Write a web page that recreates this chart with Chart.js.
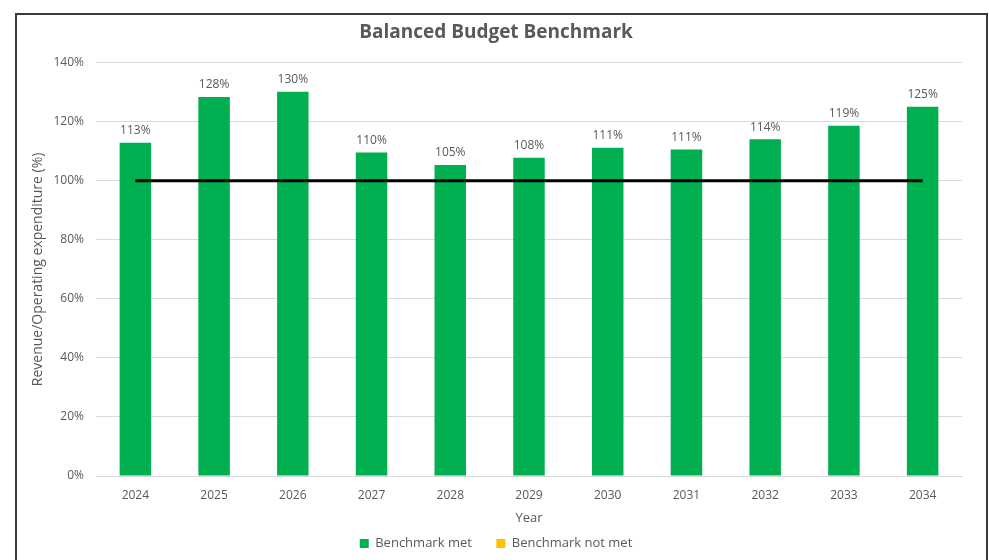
<!DOCTYPE html>
<html>
<head>
<meta charset="utf-8">
<script src="https://cdn.jsdelivr.net/npm/chart.js@4"></script>
<style>
  body { margin: 0; background: #fff; overflow: hidden; }
  #frame {
    position: absolute; left: 15px; top: 13px;
    width: 969px; height: 600px;
    border: 2px solid #3a3a3a; background: #fff;
  }
  #chart { display: block; }
</style>
</head>
<body>
<div id="frame"><canvas id="chart" width="969" height="545"></canvas></div>
<script>
// Data
const years = ['2024', '2025', '2026', '2027', '2028', '2029', '2030', '2031', '2032', '2033', '2034'];
const ratioMet = [112.9, 128.4, 130.2, 109.6, 105.4, 107.8, 111.2, 110.6, 114.1, 118.7, 125.1];
const ratioNotMet = [null, null, null, null, null, null, null, null, null, null, null];
const benchmark = [100, 100, 100, 100, 100, 100, 100, 100, 100, 100, 100];

const FONT = "'Open Sans', 'DejaVu Sans', sans-serif";
const GREY = '#595959';

// Small labels above the green bars (dataset 1 is the "met" bars)
const barLabels = {
    id: 'barLabels',
    afterDatasetsDraw(chart) {
        const ctx = chart.ctx;
        const meta = chart.getDatasetMeta(1);
        ctx.save();
        ctx.font = '12px ' + FONT;
        ctx.fillStyle = GREY;
        ctx.textAlign = 'center';
        ctx.textBaseline = 'bottom';
        meta.data.forEach((bar, i) => {
            ctx.fillText(Math.round(ratioMet[i]) + '%', bar.x, bar.y - 6);
        });
        ctx.restore();
    }
};

new Chart(document.getElementById('chart'), {
    data: {
        labels: years,
        datasets: [
            {
                type: 'line',
                label: 'Benchmark',
                data: benchmark,
                borderColor: '#000000',
                borderWidth: 3,
                pointRadius: 0,
                fill: false,
                order: 0
            },
            {
                type: 'bar',
                label: 'Benchmark met',
                data: ratioMet,
                backgroundColor: '#00B050',
                grouped: false,
                barPercentage: 0.4,
                categoryPercentage: 1,
                order: 1
            },
            {
                type: 'bar',
                label: 'Benchmark not met',
                data: ratioNotMet,
                backgroundColor: '#FFC000',
                grouped: false,
                barPercentage: 0.4,
                categoryPercentage: 1,
                order: 2
            }
        ]
    },
    options: {
        responsive: false,
        animation: false,
        devicePixelRatio: 1,
        layout: { padding: { left: 13, right: 24, top: 4, bottom: 0 } },
        plugins: {
            title: {
                display: true,
                text: 'Balanced Budget Benchmark',
                color: GREY,
                font: { family: FONT, size: 19, weight: 'bold' },
                padding: { top: 2, bottom: 19 }
            },
            legend: {
                position: 'bottom',
                labels: {
                    color: GREY,
                    font: { family: FONT, size: 13 },
                    boxWidth: 9,
                    boxHeight: 9,
                    padding: 11,
                    filter: item => item.datasetIndex !== 0,
                    generateLabels: chart => {
                        const items = Chart.defaults.plugins.legend.labels.generateLabels(chart);
                        // widen the gap after the first legend entry
                        items.forEach(it => { if (it.datasetIndex === 1) it.text = it.text + '    '; });
                        return items;
                    }
                }
            },
            tooltip: { enabled: false }
        },
        scales: {
            x: {
                grid: { display: false },
                border: { display: true, color: '#d9d9d9', width: 1 },
                ticks: { color: GREY, font: { family: FONT, size: 12 }, padding: 4 },
                title: {
                    display: true,
                    text: 'Year',
                    color: GREY,
                    font: { family: FONT, size: 13 },
                    padding: { top: 4, bottom: 0 }
                }
            },
            y: {
                min: 0,
                max: 140,
                grid: { color: '#d9d9d9', drawTicks: false },
                border: { display: false },
                afterFit: scale => { scale.width = 66; },
                ticks: {
                    stepSize: 20,
                    color: GREY,
                    font: { family: FONT, size: 12 },
                    padding: 12,
                    callback: v => v + '%'
                },
                title: {
                    display: true,
                    text: 'Revenue/Operating expenditure (%)',
                    color: GREY,
                    font: { family: FONT, size: 14 },
                    padding: { top: 0, bottom: 0 }
                }
            }
        }
    },
    plugins: [barLabels]
});
</script>
</body>
</html>
